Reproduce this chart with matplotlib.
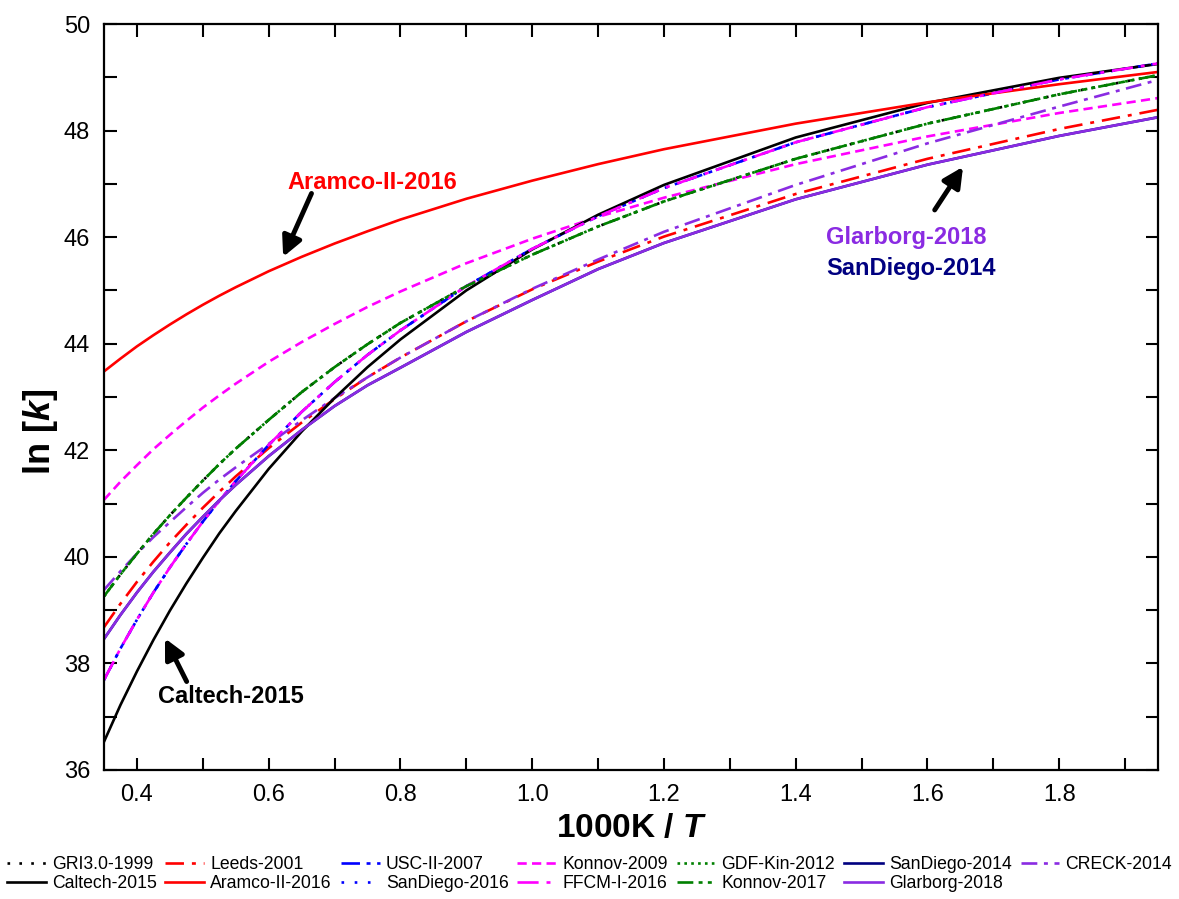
import matplotlib
matplotlib.use('Agg')
import matplotlib.pyplot as plt
from matplotlib.ticker import MultipleLocator, FormatStrFormatter

plt.rcParams['font.family'] = ['Liberation Sans', 'DejaVu Sans']
plt.rcParams['mathtext.fontset'] = 'custom'
plt.rcParams['mathtext.bfit'] = 'Liberation Sans:italic:bold'
plt.rcParams['mathtext.it'] = 'Liberation Sans:italic'
plt.rcParams['mathtext.bf'] = 'Liberation Sans:bold'

xs = [0.35, 0.375, 0.40, 0.425, 0.45, 0.475, 0.50, 0.525, 0.55, 0.60, 0.65, 0.70, 0.75,
      0.80, 0.90, 1.00, 1.10, 1.20, 1.40, 1.60, 1.80, 1.95]

gri_1999 = [39.26, 39.67, 40.06, 40.43, 40.78, 41.11, 41.43, 41.74, 42.03, 42.57, 43.09, 43.56, 43.99,
            44.39, 45.08, 45.67, 46.20, 46.67, 47.47, 48.13, 48.68, 49.04]
leeds_2001 = [38.68, 39.12, 39.53, 39.91, 40.27, 40.60, 40.92, 41.22, 41.51, 42.04, 42.52, 42.96, 43.37,
              43.74, 44.42, 45.02, 45.54, 46.01, 46.81, 47.47, 48.03, 48.39]
usc_2007 = [37.69, 38.28, 38.82, 39.33, 39.80, 40.24, 40.66, 41.05, 41.42, 42.10, 42.72, 43.28, 43.79,
            44.25, 45.08, 45.78, 46.39, 46.92, 47.78, 48.44, 48.96, 49.26]
konnov_2009 = [41.07, 41.41, 41.72, 42.02, 42.29, 42.55, 42.80, 43.03, 43.25, 43.66, 44.03, 44.37, 44.69,
               44.98, 45.51, 45.97, 46.38, 46.74, 47.37, 47.89, 48.33, 48.61]
gdf_2012 = [39.26, 39.67, 40.06, 40.43, 40.78, 41.11, 41.43, 41.74, 42.03, 42.57, 43.09, 43.56, 43.99,
            44.39, 45.08, 45.67, 46.20, 46.67, 47.47, 48.13, 48.68, 49.04]
sandiego_2014 = [38.46, 38.91, 39.33, 39.72, 40.08, 40.43, 40.75, 41.06, 41.35, 41.89, 42.38, 42.83, 43.22,
                 43.55, 44.22, 44.82, 45.40, 45.89, 46.71, 47.36, 47.90, 48.25]
creck_2014 = [39.38, 39.73, 40.06, 40.37, 40.65, 40.93, 41.20, 41.45, 41.68, 42.12, 42.56, 42.98, 43.37,
              43.74, 44.42, 45.03, 45.58, 46.10, 46.98, 47.76, 48.45, 48.95]
caltech_2015 = [36.53, 37.22, 37.85, 38.44, 38.99, 39.50, 39.98, 40.44, 40.86, 41.65, 42.35, 42.98, 43.56,
                44.08, 45.00, 45.77, 46.42, 46.98, 47.87, 48.52, 48.99, 49.25]
aramco_2016 = [43.48, 43.72, 43.95, 44.16, 44.36, 44.55, 44.73, 44.90, 45.06, 45.36, 45.63, 45.88, 46.11,
               46.33, 46.72, 47.06, 47.37, 47.65, 48.13, 48.53, 48.87, 49.10]
sandiego_2016 = [37.69, 38.28, 38.82, 39.33, 39.80, 40.24, 40.66, 41.05, 41.42, 42.10, 42.72, 43.28, 43.79,
                 44.25, 45.08, 45.78, 46.39, 46.92, 47.78, 48.44, 48.96, 49.26]
ffcm_2016 = [37.69, 38.28, 38.82, 39.33, 39.80, 40.24, 40.66, 41.05, 41.42, 42.10, 42.72, 43.28, 43.79,
             44.25, 45.08, 45.78, 46.39, 46.92, 47.78, 48.44, 48.96, 49.26]
konnov_2017 = [39.26, 39.67, 40.06, 40.43, 40.78, 41.11, 41.43, 41.74, 42.03, 42.57, 43.09, 43.56, 43.99,
               44.39, 45.08, 45.67, 46.20, 46.67, 47.47, 48.13, 48.68, 49.04]
glarborg_2018 = [38.46, 38.91, 39.33, 39.72, 40.08, 40.43, 40.75, 41.06, 41.35, 41.89, 42.38, 42.83, 43.22,
                 43.55, 44.22, 44.82, 45.40, 45.89, 46.71, 47.36, 47.90, 48.25]

violet = '#8A2BE2'
series = [
    ('GRI3.0-1999', gri_1999, 'black', (0, (1, 3.5))),
    ('Leeds-2001', leeds_2001, 'red', (0, (7, 3, 1.5, 3))),
    ('USC-II-2007', usc_2007, 'blue', (0, (7, 2.5, 1.5, 2.5, 1.5, 2.5))),
    ('Konnov-2009', konnov_2009, '#FF00FF', (0, (3.5, 2))),
    ('GDF-Kin-2012', gdf_2012, '#008000', (0, (1, 1.6))),
    ('SanDiego-2014', sandiego_2014, '#000080', '-'),
    ('CRECK-2014', creck_2014, violet, (0, (6, 2.5, 1.5, 2.5))),
    ('Caltech-2015', caltech_2015, 'black', '-'),
    ('Aramco-II-2016', aramco_2016, 'red', '-'),
    ('SanDiego-2016', sandiego_2016, 'blue', (0, (1, 4))),
    ('FFCM-I-2016', ffcm_2016, '#FF00FF', (0, (8, 3, 1.5, 3))),
    ('Konnov-2017', konnov_2017, '#008000', (0, (6, 2, 1.5, 2, 1.5, 2))),
    ('Glarborg-2018', glarborg_2018, violet, '-'),
]

fig, ax = plt.subplots(figsize=(11.79, 8.99), dpi=100)
fig.subplots_adjust(left=0.0882, right=0.9822, top=0.9733, bottom=0.1435)

handles = []
for name, ys, col, ls in series:
    ln, = ax.plot(xs, ys, color=col, linestyle=ls, linewidth=1.9, label=name)
    handles.append(ln)

ax.set_xlim(0.35, 1.95)
ax.set_ylim(36, 50)
ax.xaxis.set_major_locator(MultipleLocator(0.2))
ax.xaxis.set_minor_locator(MultipleLocator(0.1))
ax.yaxis.set_major_locator(MultipleLocator(2))
ax.yaxis.set_minor_locator(MultipleLocator(1))
ax.xaxis.set_major_formatter(FormatStrFormatter('%.1f'))
ax.tick_params(which='both', direction='in', top=True, right=True, length=9, width=1.5)
ax.tick_params(which='major', labelsize=17, pad=10)
for s in ax.spines.values():
    s.set_linewidth(1.6)

ax.set_xlabel('1000K / $\\mathbfit{T}$', fontsize=24, fontweight='bold', labelpad=5)
fig.text(40 / 1179, 1 - 432 / 899, 'ln [$\\mathbfit{k}$]', fontsize=26, fontweight='bold',
         rotation=90, ha='center', va='center')

arrow = dict(arrowstyle='-|>', color='black', lw=3.5, mutation_scale=30, shrinkA=0, shrinkB=0)
ax.annotate('', xy=(0.622, 45.63), xytext=(0.665, 46.82), arrowprops=arrow)
ax.text(0.757, 47.03, 'Aramco-II-2016', color='red', fontsize=17, fontweight='bold', ha='center', va='center')
ax.annotate('', xy=(0.4426, 38.47), xytext=(0.4755, 37.66), arrowprops=arrow)
ax.text(0.543, 37.38, 'Caltech-2015', color='black', fontsize=17, fontweight='bold', ha='center', va='center')
ax.annotate('', xy=(1.654, 47.32), xytext=(1.611, 46.51), arrowprops=arrow)
ax.text(1.446, 45.99, 'Glarborg-2018', color=violet, fontsize=17, fontweight='bold', ha='left', va='center')
ax.text(1.446, 45.42, 'SanDiego-2014', color='#000080', fontsize=17, fontweight='bold', ha='left', va='center')

# legend is row-major in the original, matplotlib fills columns first
order = [0, 7, 1, 8, 2, 9, 3, 10, 4, 11, 5, 12, 6]
fig.legend([handles[i] for i in order], [series[i][0] for i in order],
           loc='lower center', bbox_to_anchor=(0.5, 0.0), ncol=7, frameon=False,
           fontsize=12.7, handlelength=2.2, handletextpad=0.35, columnspacing=0.5,
           labelspacing=0.1, borderaxespad=0.2, borderpad=0.2)

fig.savefig('out.png', dpi=100, facecolor='white')
